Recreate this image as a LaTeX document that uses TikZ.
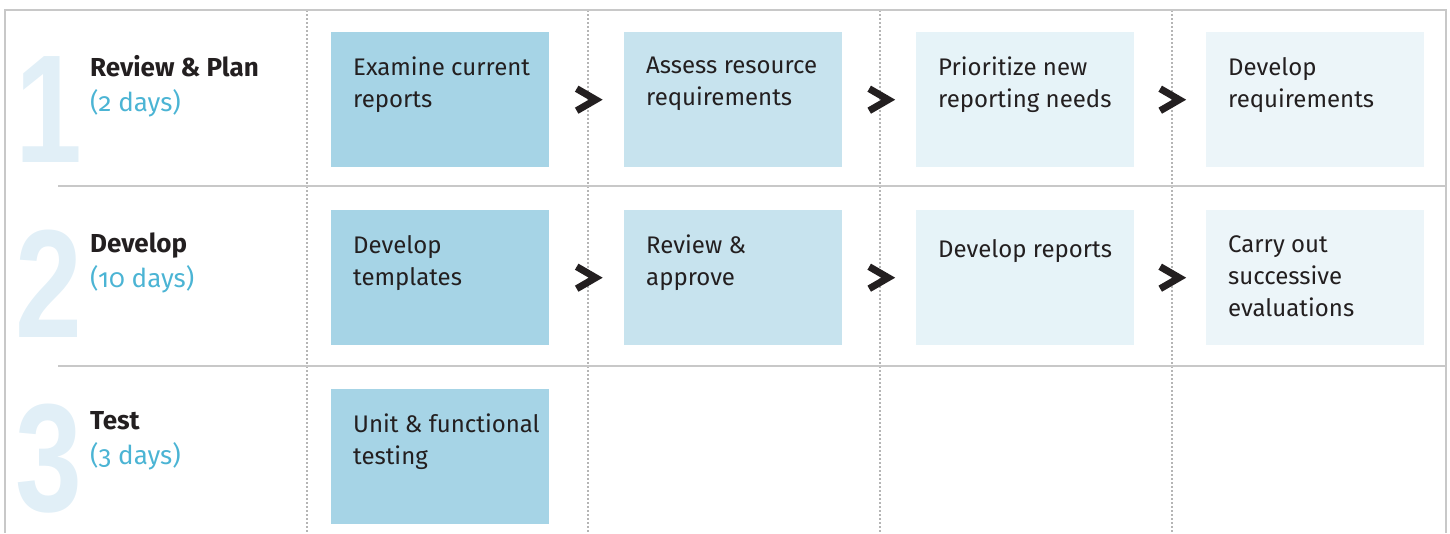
\documentclass[tikz,border=0pt]{standalone}
\usepackage{fontspec}
\setmainfont{Fira Sans}
\newfontfamily\daysfont{Fira Sans}[Numbers=OldStyle]
\newfontfamily\bignumfont{Liberation Sans}
\usetikzlibrary{calc}

\definecolor{ink}{HTML}{231F20}
\definecolor{dayblue}{HTML}{4BB4D4}
\definecolor{numblue}{HTML}{E1EFF7}
\definecolor{fillA}{HTML}{A6D4E6}
\definecolor{fillB}{HTML}{C7E3EE}
\definecolor{fillC}{HTML}{E6F3F8}
\definecolor{fillD}{HTML}{ECF5F9}
\definecolor{framegray}{HTML}{C8C8C8}
\definecolor{dotgray}{HTML}{B5B5B5}

\newcommand*{\days}[1]{\textcolor{dayblue}{\daysfont\fontsize{26}{35}\selectfont(#1 days)}}

\begin{document}
\begin{tikzpicture}[x=1pt, y=-1pt,
    frame/.style={draw=framegray, line width=2.5pt},
    gridline/.style={draw=dotgray, line width=1.2pt, dash pattern=on 1.5pt off 2.5pt},
    box/.style={rectangle, anchor=north west, minimum width=218pt, minimum height=135pt, inner sep=0pt},
    task/.style={anchor=north west, align=left, inner sep=0pt, text=ink, font=\fontsize{24}{32}\selectfont, execute at begin node=\strut},
    phase/.style={anchor=north west, align=left, inner sep=0pt, text=ink, font=\fontsize{26}{35}\selectfont, execute at begin node=\strut},
    bignum/.style={anchor=base west, inner sep=0pt, text=numblue, font=\bignumfont\bfseries\fontsize{154}{154}\selectfont},
    chev/.style={draw=ink, line width=7pt, miter limit=10}]
  \useasboundingbox (0,0) rectangle (1450,533);

  % column rules
  \foreach \x in {307,588,880,1172}
    \draw[gridline] (\x,10) -- (\x,533);

  % outer frame and row rules
  \draw[frame] (5,533) -- (5,10) -- (1446,10) -- (1446,533);
  \foreach \y in {186,366}
    \draw[frame] (58,\y) -- (1446,\y);

  % phase numbers
  \node[bignum] (n1) at (15,162) {\scalebox{0.78}[1]{1}};
  \node[bignum] (n2) at (15,337) {\scalebox{0.78}[1]{2}};
  \node[bignum] (n3) at (15,511) {\scalebox{0.78}[1]{3}};

  % phase titles (strut height 0.7*35 above the first baseline)
  \node[phase] (p1) at (90,55.5) {\textbf{Review \& Plan}\\\days{2}};
  \node[phase] (p2) at (90,232.5) {\textbf{Develop}\\\days{10}};
  \node[phase] (p3) at (90,411.5) {\textbf{Test}\\\days{3}};

  % task boxes
  \foreach \c/\x/\col in {1/331/fillA, 2/624/fillB, 3/916/fillC, 4/1206/fillD}
  {
    \foreach \r/\y in {1/32, 2/210}
    {
      \node[box, fill=\col] (b\r\c) at (\x,\y) {};
    }
  }
  \node[box, fill=fillA] (b31) at (331,389) {};

  \node[task] (t11) at ([shift={(22,25)}]b11.north west) {Examine current\\reports};
  \node[task] (t12) at ([shift={(22,25)}]b12.north west) {Assess resource\\requirements};
  \node[task] (t13) at ([shift={(22,25)}]b13.north west) {Prioritize new\\reporting needs};
  \node[task] (t14) at ([shift={(22,25)}]b14.north west) {Develop\\requirements};
  \node[task] (t21) at ([shift={(22,25)}]b21.north west) {Develop\\templates};
  \node[task] (t22) at ([shift={(22,25)}]b22.north west) {Review \&\\approve};
  \node[task] (t23) at ([shift={(22,25)}]b23.north west) {Develop reports};
  \node[task] (t24) at ([shift={(22,25)}]b24.north west) {Carry out\\successive\\evaluations};
  \node[task] (t31) at ([shift={(22,25)}]b31.north west) {Unit \& functional\\testing};

  % chevrons between boxes
  \foreach \r in {1,2}
  {
    \foreach \a/\b in {1/2, 2/3, 3/4}
    {
      \coordinate (m\r\a) at ($(b\r\a.east)!0.5!(b\r\b.west)+(3,0)$);
      \draw[chev] ([shift={(-13,-11)}]m\r\a) -- ([shift={(6,0)}]m\r\a) -- ([shift={(-13,11)}]m\r\a);
    }
  }
\end{tikzpicture}
\end{document}
